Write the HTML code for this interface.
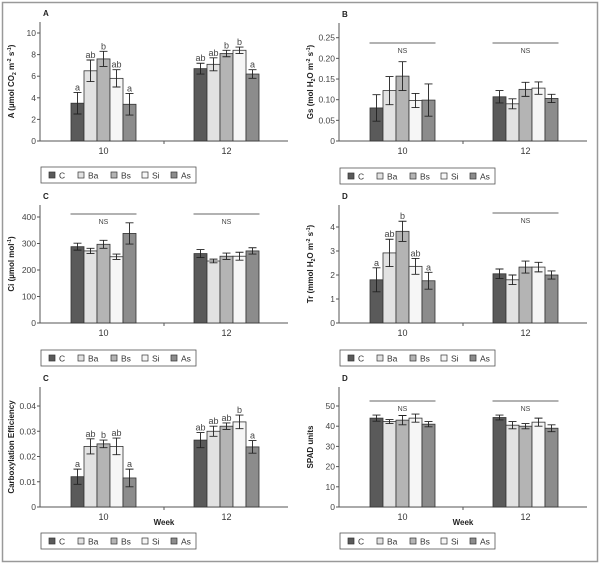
<!DOCTYPE html>
<html><head><meta charset="utf-8"><style>
body{margin:0;background:#fff;}
svg{display:block;font-family:"Liberation Sans",sans-serif;}
</style></head><body>
<svg id="fig" width="602" height="565" viewBox="0 0 602 565">
<rect x="2.5" y="2.5" width="595" height="559" fill="none" stroke="#999" stroke-width="1.5"/>
</svg>
<script>
const treatments = ["C","Ba","Bs","Si","As"];
const weeks = ["10","12"];
const colors = ["#5a5a5a","#e2e2e2","#b4b4b4","#f6f6f6","#8c8c8c"];

const aMeans10 = [3.5,6.5,7.6,5.8,3.4];
const aErr10 = [1.0,1.0,0.7,0.8,1.0];
const aMeans12 = [6.7,7.1,8.1,8.4,6.2];
const aErr12 = [0.5,0.6,0.3,0.3,0.4];
const aLetters10 = ["a","ab","b","ab","a"];
const aLetters12 = ["ab","ab","b","b","a"];

const gsMeans10 = [0.080,0.122,0.157,0.098,0.099];
const gsErr10 = [0.032,0.034,0.035,0.017,0.039];
const gsMeans12 = [0.107,0.090,0.125,0.128,0.103];
const gsErr12 = [0.015,0.012,0.017,0.015,0.010];

const ciMeans10 = [288,272,297,250,338];
const ciErr10 = [13,10,15,10,40];
const ciMeans12 = [262,234,252,252,272];
const ciErr12 = [15,7,12,15,12];

const trMeans10 = [1.8,2.92,3.82,2.36,1.76];
const trErr10 = [0.5,0.57,0.42,0.33,0.35];
const trMeans12 = [2.05,1.8,2.33,2.33,2.0];
const trErr12 = [0.2,0.2,0.25,0.2,0.17];
const trLetters10 = ["a","ab","b","ab","a"];

const ceMeans10 = [0.012,0.024,0.025,0.024,0.0115];
const ceErr10 = [0.003,0.003,0.0015,0.0033,0.0035];
const ceMeans12 = [0.0265,0.030,0.032,0.0337,0.0238];
const ceErr12 = [0.003,0.002,0.0013,0.0027,0.0025];
const ceLetters10 = ["a","ab","b","ab","a"];
const ceLetters12 = ["ab","ab","ab","b","a"];

const spadMeans10 = [44,42.3,43,44,41];
const spadErr10 = [1.5,1,2.3,2,1.3];
const spadMeans12 = [44.3,40.5,40,42,39];
const spadErr12 = [1.2,1.8,1.3,2,1.7];

const aTicks = [0,2,4,6,8,10];
const gsTicks = [0,0.05,0.10,0.15,0.20,0.25];
const gsTickLabels = ["0","0.05","0.10","0.15","0.20","0.25"];
const ciTicks = [0,100,200,300,400];
const trTicks = [0,1,2,3,4];
const ceTicks = [0,0.01,0.02,0.03,0.04];
const ceTickLabels = ["0","0.01","0.02","0.03","0.04"];
const spadTicks = [0,10,20,30,40,50];

const NS = "http://www.w3.org/2000/svg";
const svg = document.getElementById('fig');
function mk(tag, attrs, parent, text){
  const e = document.createElementNS(NS, tag);
  for (const k in attrs) e.setAttribute(k, attrs[k]);
  if (text !== undefined) e.textContent = text;
  (parent||svg).appendChild(e);
  return e;
}

function panel(p){
  const g = mk('g', {});
  
  
  const ax = p.ax, y0 = p.y0;
  const yScale = v => y0 - (v - 0) / (p.refVal) * (y0 - p.refY);
  const xEnd = ax + 248;
  const groupCenter = i => ax + 63.5 + i * 123;
  const bw = 13;
  const xBar = (gi, ti) => groupCenter(gi) - 2.5*bw + ti*bw;
  const lab = mk('text', {x: ax+3, y: p.top-6, 'font-size': 8, 'font-weight': 'bold', fill: '#222'}, g, p.letter);
  
  
  const yl = mk('line', {x1: ax, y1: p.top, x2: ax, y2: y0, stroke: '#555', 'stroke-width': 1}, g);
  
  
  const xl = mk('line', {x1: ax, y1: y0, x2: xEnd, y2: y0, stroke: '#555', 'stroke-width': 1}, g);
  
  
  mk('line', {x1: ax+124, y1: y0, x2: ax+124, y2: y0+3, stroke: '#555'}, g);
  p.ticks.forEach((t, i) => {
    const y = yScale(t);
    mk('line', {x1: ax-3, y1: y, x2: ax, y2: y, stroke: '#555'}, g);
    const tl = mk('text', {x: ax-4, y: y+3, 'font-size': 8.5, fill: '#444', 'text-anchor': 'end'}, g, p.tickLabels ? p.tickLabels[i] : String(t));
    
    
  });
  const ty = (p.top + y0)/2;
  const tx = ax - 26;
  const yt = mk('text', {x: tx, y: ty, 'font-size': 8, 'font-weight': 'bold', fill: '#222', 'text-anchor': 'middle', transform: `rotate(-90 ${tx} ${ty})`}, g);
  yt.innerHTML = p.ytitle;
  
  
  weeks.forEach((w, gi) => {
    const xt = mk('text', {x: groupCenter(gi), y: y0+13, 'font-size': 9, fill: '#333', 'text-anchor': 'middle'}, g, w);
    
    
  });
  if (p.week){
    const wk = mk('text', {x: ax+124, y: y0+18, 'font-size': 8, 'font-weight': 'bold', fill: '#222', 'text-anchor': 'middle'}, g, 'Week');
    
    
  }
  [[p.m10,p.e10,p.l10],[p.m12,p.e12,p.l12]].forEach(([m, e, l], gi) => {
    m.forEach((v, ti) => {
      const x = xBar(gi, ti), y = yScale(v);
      const r = mk('rect', {x: x, y: y, width: bw, height: y0 - y, fill: colors[ti], stroke: '#333', 'stroke-width': 0.8}, g);
      
      
      const cx = x + bw/2, yh = yScale(v + e[ti]), yl2 = yScale(v - e[ti]);
      const eb = mk('path', {d: `M${cx},${yh}V${yl2}M${cx-4},${yh}H${cx+4}M${cx-4},${yl2}H${cx+4}`, stroke: '#222', 'stroke-width': 0.9, fill: 'none'}, g);
      
      
      if (l){
        const lt = mk('text', {x: cx, y: yh-2, 'font-size': 9, fill: '#444', 'text-anchor': 'middle'}, g, l[ti]);
        
        
      }
    });
  });
  (p.ns || []).forEach(gi => {
    const c = groupCenter(gi);
    mk('line', {x1: c-33, y1: p.nsY, x2: c+33, y2: p.nsY, stroke: '#666', 'stroke-width': 1}, g);
    const nt = mk('text', {x: c, y: p.nsY+10, 'font-size': 7, fill: '#444', 'text-anchor': 'middle'}, g, 'NS');
    
    
  });
  const lg = mk('g', {}, g);
  
  
  mk('rect', {x: ax+1, y: p.legY, width: 155, height: 16, fill: '#fff', stroke: '#555', 'stroke-width': 0.8}, lg);
  const offs = [8, 37, 70, 101, 130];
  treatments.forEach((t, ti) => {
    const e = mk('g', {}, lg);
    
    
    mk('rect', {x: ax+1+offs[ti], y: p.legY+5, width: 6, height: 6, fill: colors[ti], stroke: '#333', 'stroke-width': 0.7}, e);
    mk('text', {x: ax+1+offs[ti]+10, y: p.legY+11.5, 'font-size': 8.5, fill: '#333'}, e, t);
  });
}

panel({name:'panel-a-photosynthesis', letter:'A', ax:40, y0:141, refVal:10, refY:33, top:22,
  ticks:aTicks, ytitle:'A (µmol CO<tspan font-size="5" dy="2">2</tspan><tspan dy="-2"> m</tspan><tspan font-size="5" dy="-3">-2</tspan><tspan dy="3"> s</tspan><tspan font-size="5" dy="-3">-1</tspan><tspan dy="3">)</tspan>',
  m10:aMeans10,e10:aErr10,l10:aLetters10,m12:aMeans12,e12:aErr12,l12:aLetters12,legY:167});
panel({name:'panel-b-stomatal-conductance', letter:'B', ax:339, y0:141, refVal:0.25, refY:37.7, top:23,
  ticks:gsTicks, tickLabels:gsTickLabels, ytitle:'Gs (mol H<tspan font-size="5" dy="2">2</tspan><tspan dy="-2">O m</tspan><tspan font-size="5" dy="-3">-2</tspan><tspan dy="3"> s</tspan><tspan font-size="5" dy="-3">-1</tspan><tspan dy="3">)</tspan>',
  m10:gsMeans10,e10:gsErr10,m12:gsMeans12,e12:gsErr12,ns:[0,1],nsY:43,legY:168});
panel({name:'panel-c-ci', letter:'C', ax:40, y0:323, refVal:400, refY:217, top:205,
  ticks:ciTicks, ytitle:'Ci (µmol mol<tspan font-size="5" dy="-3">-1</tspan><tspan dy="3">)</tspan>',
  m10:ciMeans10,e10:ciErr10,m12:ciMeans12,e12:ciErr12,ns:[0,1],nsY:214,legY:350});
panel({name:'panel-d-transpiration', letter:'D', ax:339, y0:323, refVal:4, refY:227, top:205,
  ticks:trTicks, ytitle:'Tr (mmol H<tspan font-size="5" dy="2">2</tspan><tspan dy="-2">O m</tspan><tspan font-size="5" dy="-3">-2</tspan><tspan dy="3"> s</tspan><tspan font-size="5" dy="-3">-1</tspan><tspan dy="3">)</tspan>',
  m10:trMeans10,e10:trErr10,l10:trLetters10,m12:trMeans12,e12:trErr12,ns:[1],nsY:213,legY:350});
panel({name:'panel-c-carboxylation-efficiency', letter:'C', ax:40, y0:507, refVal:0.04, refY:406, top:387,
  ticks:ceTicks, tickLabels:ceTickLabels, ytitle:'Carboxylation Efficiency', week:true,
  m10:ceMeans10,e10:ceErr10,l10:ceLetters10,m12:ceMeans12,e12:ceErr12,l12:ceLetters12,legY:533});
panel({name:'panel-d-spad', letter:'D', ax:339, y0:507, refVal:50, refY:406, top:387,
  ticks:spadTicks, ytitle:'SPAD units', week:true,
  m10:spadMeans10,e10:spadErr10,m12:spadMeans12,e12:spadErr12,ns:[0,1],nsY:401,legY:533});
</script>
</body></html>
